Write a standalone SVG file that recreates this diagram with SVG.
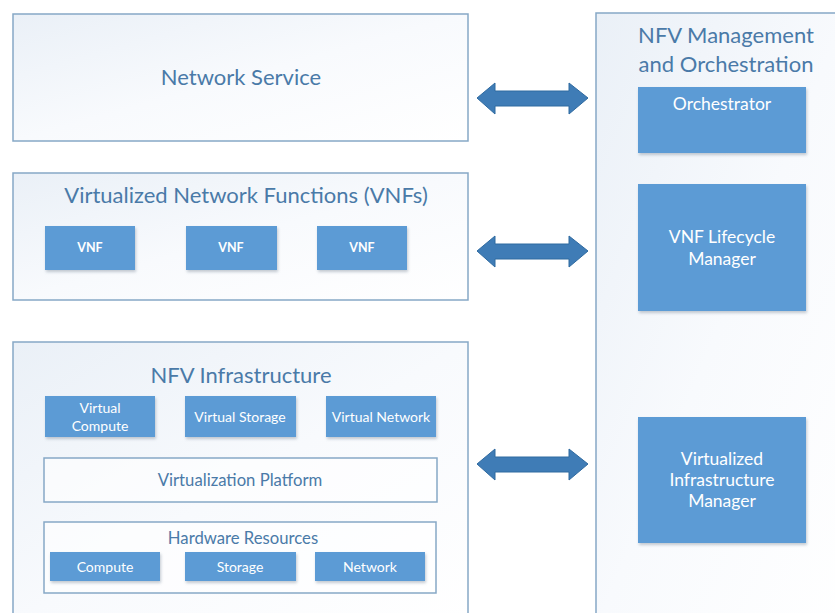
<svg xmlns="http://www.w3.org/2000/svg" width="835" height="613" viewBox="0 0 835 613">
<defs>
<linearGradient id="bg" x1="0" y1="0" x2="1" y2="1">
<stop offset="0" stop-color="#eaf0f7"/>
<stop offset="0.5" stop-color="#f8fafd"/>
<stop offset="1" stop-color="#ffffff"/>
</linearGradient>
<filter id="sh" x="-10%" y="-10%" width="130%" height="140%">
<feDropShadow dx="1" dy="2" stdDeviation="1.5" flood-color="#7a8a9a" flood-opacity="0.45"/>
</filter>
</defs>
<style>
.cont{fill:url(#bg);stroke:#86a8c6;stroke-width:1.5}
.inner{fill:#ffffff;fill-opacity:0.6;stroke:#86a8c6;stroke-width:1.5}
.blue{fill:#5b9bd5;filter:url(#sh)}
.title{font-family:Lato,"Liberation Sans",sans-serif;fill:#4a7aa8;text-anchor:middle;font-size:22px}
.lbl{font-family:Lato,"Liberation Sans",sans-serif;fill:#ffffff;text-anchor:middle;font-size:14px}
.vnf{font-size:12.5px;font-weight:bold}
.big{font-size:17.5px}
.sub{font-family:Lato,"Liberation Sans",sans-serif;fill:#4a7aa8;text-anchor:middle;font-size:16.7px}
.arr{fill:#3f7cb6;stroke:#2f6aa0;stroke-width:1}
</style>
<rect width="835" height="613" fill="#ffffff"/>

<g id="network-service">
<rect class="cont" x="13" y="14" width="455" height="127"/>
<text class="title" x="241" y="85">Network Service</text>
</g>

<g id="vnfs">
<rect class="cont" x="13" y="173" width="455" height="127"/>
<text class="title" x="246" y="203">Virtualized Network Functions (VNFs)</text>
<g id="vnf1"><rect class="blue" x="45" y="226" width="90" height="44"/><text class="lbl vnf" x="90" y="252">VNF</text></g>
<g id="vnf2"><rect class="blue" x="186" y="226" width="91" height="44"/><text class="lbl vnf" x="231" y="252">VNF</text></g>
<g id="vnf3"><rect class="blue" x="317" y="226" width="90" height="44"/><text class="lbl vnf" x="362" y="252">VNF</text></g>
</g>

<g id="nfvi">
<rect class="cont" x="13" y="342" width="455" height="280"/>
<text class="title" x="241" y="383">NFV Infrastructure</text>
<g id="virtual-compute"><rect class="blue" x="45" y="396" width="110" height="41"/><text class="lbl" x="100" y="413">Virtual</text><text class="lbl" x="100" y="431">Compute</text></g>
<g id="virtual-storage"><rect class="blue" x="185" y="396" width="111" height="41"/><text class="lbl" x="240" y="422">Virtual Storage</text></g>
<g id="virtual-network"><rect class="blue" x="326" y="396" width="110" height="41"/><text class="lbl" x="381" y="422">Virtual Network</text></g>
<g id="virtualization-platform"><rect class="inner" x="44" y="458" width="393" height="44"/><text class="sub" x="240" y="486">Virtualization Platform</text></g>
<g id="hardware-resources">
<rect class="inner" x="44" y="522" width="392" height="71"/>
<text class="sub" x="243" y="544">Hardware Resources</text>
<g id="compute"><rect class="blue" x="50" y="552" width="110" height="29"/><text class="lbl" x="105" y="572">Compute</text></g>
<g id="storage"><rect class="blue" x="185" y="552" width="111" height="29"/><text class="lbl" x="240" y="572">Storage</text></g>
<g id="network"><rect class="blue" x="315" y="552" width="110" height="29"/><text class="lbl" x="370" y="572">Network</text></g>
</g>
</g>

<g id="mano">
<rect class="cont" x="596" y="13" width="250" height="620"/>
<text class="title" x="726" y="43">NFV Management</text>
<text class="title" x="726" y="72">and Orchestration</text>
<g id="orchestrator"><rect class="blue" x="638" y="87" width="168" height="66"/><text class="lbl big" x="722" y="110">Orchestrator</text></g>
<g id="vnf-lifecycle-manager"><rect class="blue" x="638" y="184" width="168" height="127"/><text class="lbl big" x="722" y="243">VNF Lifecycle</text><text class="lbl big" x="722" y="265">Manager</text></g>
<g id="vim"><rect class="blue" x="638" y="417" width="168" height="126"/><text class="lbl big" x="722" y="465">Virtualized</text><text class="lbl big" x="722" y="486">Infrastructure</text><text class="lbl big" x="722" y="507">Manager</text></g>
</g>

<g id="connectors">
<polygon class="arr" points="477,98 495,83 495,91 569,91 569,83 588,98 569,114 569,106 495,106 495,114"/>
<polygon class="arr" points="477,251 495,236 495,244 569,244 569,236 588,251 569,267 569,259 495,259 495,267"/>
<polygon class="arr" points="477,464 495,449 495,457 569,457 569,449 588,464 569,480 569,472 495,472 495,480"/>
</g>
</svg>
